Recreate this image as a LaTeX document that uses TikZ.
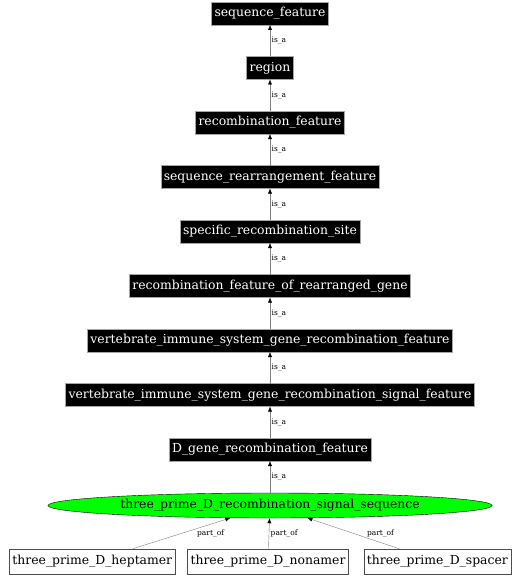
\documentclass[tikz,border=0pt]{standalone}
\usepackage{fontspec}
\setmainfont{DejaVu Serif}
\usepackage{tikz}
\usetikzlibrary{positioning,shapes.geometric,arrows.meta}

\begin{document}
\begin{tikzpicture}[x=1bp,y=1bp,node distance=31.5bp,
     termnode/.style = {rectangle, fill=black, draw=gray!70, text=white, font=\fontsize{12.4bp}{14bp}\selectfont, minimum height=23bp, inner xsep=3bp, inner ysep=0pt, outer sep=0pt},
     focusnode/.style = {ellipse, fill=green, draw=black, font=\fontsize{12.4bp}{14bp}\selectfont, minimum width=444bp, minimum height=25bp, inner sep=0pt},
     partnode/.style = {rectangle, fill=white, draw=black!70, font=\fontsize{12.4bp}{14bp}\selectfont, minimum height=25bp, inner xsep=3bp, inner ysep=0pt},
     relarrow/.style = {draw=gray, -{Latex[black,length=5bp,width=4bp]}},
     rellabel/.style = {font=\fontsize{7.5bp}{8bp}\selectfont, inner sep=1.5bp}]
     \useasboundingbox (0,0) rectangle (521,-576);
     \node[termnode] (seqfeat) at (270,-13.5) {sequence\_feature};
     \node[termnode] (region) [below=of seqfeat] {region};
     \node[termnode] (recfeat) [below=of region] {recombination\_feature};
     \node[termnode] (rearr) [below=of recfeat] {sequence\_rearrangement\_feature};
     \node[termnode] (site) [below=of rearr] {specific\_recombination\_site};
     \node[termnode] (rearrgene) [below=of site] {recombination\_feature\_of\_rearranged\_gene};
     \node[termnode] (visfeat) [below=of rearrgene] {vertebrate\_immune\_system\_gene\_recombination\_feature};
     \node[termnode] (vissignal) [below=of visfeat] {vertebrate\_immune\_system\_gene\_recombination\_signal\_feature};
     \node[termnode] (dgene) [below=of vissignal] {D\_gene\_recombination\_feature};
     \node[focusnode] (rss) at (270,-505.5) {three\_prime\_D\_recombination\_signal\_sequence};
     \node[partnode] (nonamer) at (268,-561.5) {three\_prime\_D\_nonamer};
     \node[partnode] (heptamer) [left=12bp of nonamer] {three\_prime\_D\_heptamer};
     \node[partnode] (spacer) [right=15bp of nonamer] {three\_prime\_D\_spacer};

     \draw[relarrow] (region) -- node[rellabel, right] {is\_a} (seqfeat);
     \draw[relarrow] (recfeat) -- node[rellabel, right] {is\_a} (region);
     \draw[relarrow] (rearr) -- node[rellabel, right] {is\_a} (recfeat);
     \draw[relarrow] (site) -- node[rellabel, right] {is\_a} (rearr);
     \draw[relarrow] (rearrgene) -- node[rellabel, right] {is\_a} (site);
     \draw[relarrow] (visfeat) -- node[rellabel, right] {is\_a} (rearrgene);
     \draw[relarrow] (vissignal) -- node[rellabel, right] {is\_a} (visfeat);
     \draw[relarrow] (dgene) -- node[rellabel, right] {is\_a} (vissignal);
     \draw[relarrow] (rss) -- node[rellabel, right] {is\_a} (dgene);
     \draw[relarrow] (heptamer) -- node[rellabel, anchor=west, xshift=14bp] {part\_of} (rss);
     \draw[relarrow] (nonamer) -- node[rellabel, right] {part\_of} (rss);
     \draw[relarrow] (spacer) -- node[rellabel, anchor=west, xshift=12bp] {part\_of} (rss);
\end{tikzpicture}
\end{document}
